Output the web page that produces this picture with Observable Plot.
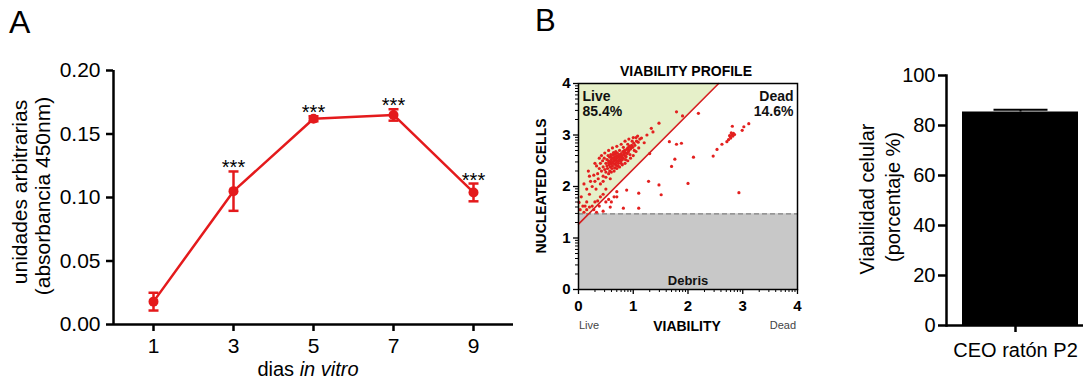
<!DOCTYPE html>
<html><head><meta charset="utf-8">
<script src="https://cdn.jsdelivr.net/npm/d3@7"></script>
<script src="https://cdn.jsdelivr.net/npm/@observablehq/plot@0.6"></script>
<style>
body{margin:0;background:#fff;}
#wrap{position:relative;width:1083px;height:383px;overflow:hidden;font-family:"Liberation Sans",Arial,sans-serif;background:#fff;}
#wrap svg{position:absolute;left:0;top:0;}
.lbl{position:absolute;white-space:nowrap;color:#000;line-height:1;}
</style></head><body><div id="wrap"></div>
<script>
// ---------- Panel A data ----------
const days = [1, 3, 5, 7, 9];
const absorbance = [0.018, 0.105, 0.162, 0.165, 0.104];
const absorbanceErr = [0.007, 0.0155, 0.002, 0.0045, 0.007];
const significance = ["", "***", "***", "***", "***"];
const ticksA_y = [0, 0.05, 0.10, 0.15, 0.20];

// ---------- Panel B data ----------
const ticksB = [0, 1, 2, 3, 4];
const minorFractions = [0.301, 0.477, 0.602, 0.699, 0.778, 0.845, 0.903, 0.954];
const liveGate = [[0, 1.3], [2.56, 4], [0, 4]];
const gateLine = [[0, 1.27], [2.56, 4]];
const debrisTop = 1.47;
const gateLabels = ["Live\n85.4%", "Dead\n14.6%", "Debris"];
const events = [
[0.42,2.30],[0.45,2.38],[0.48,2.33],[0.50,2.45],[0.52,2.40],[0.53,2.35],[0.55,2.50],[0.56,2.42],[0.58,2.47],[0.58,2.38],[0.60,2.52],[0.60,2.44],[0.62,2.48],[0.62,2.40],[0.63,2.55],[0.64,2.45],[0.65,2.50],[0.66,2.58],[0.67,2.43],[0.68,2.52],[0.69,2.47],[0.70,2.55],[0.70,2.60],[0.71,2.50],[0.72,2.57],[0.73,2.45],[0.74,2.62],[0.75,2.53],[0.76,2.58],[0.77,2.49],[0.78,2.64],[0.79,2.56],[0.80,2.60],[0.81,2.68],[0.82,2.55],[0.83,2.63],[0.84,2.70],[0.85,2.60],[0.86,2.66],[0.88,2.72],[0.89,2.64],[0.90,2.75],[0.92,2.70],[0.93,2.78],[0.95,2.73],[0.97,2.80],[0.99,2.76],[1.01,2.84],[1.03,2.80],[1.06,2.88],[1.09,2.86],[1.12,2.92],
[0.40,2.45],[0.44,2.50],[0.47,2.55],[0.50,2.28],[0.54,2.60],[0.57,2.30],[0.59,2.62],[0.61,2.35],[0.64,2.66],[0.66,2.36],[0.68,2.68],[0.72,2.40],[0.75,2.70],[0.78,2.45],[0.82,2.76],[0.86,2.52],[0.90,2.82],[0.94,2.62],[0.98,2.88],[1.02,2.70],
[0.35,2.25],[0.38,2.35],[0.33,2.40],[0.52,2.52],[0.57,2.57],[0.63,2.62],[0.67,2.63],[0.71,2.65],[0.74,2.50],[0.80,2.52],[0.87,2.58],[0.60,2.57],[0.55,2.46],[0.65,2.54],[0.69,2.41],[0.77,2.61],[0.84,2.66],[0.91,2.67],[0.96,2.76],
[0.45,2.20],[0.50,2.18],[0.55,2.25],[0.60,2.28],[0.65,2.30],[0.70,2.35],[0.75,2.38],[0.80,2.42],[0.85,2.45],[0.90,2.50],[0.95,2.55],[1.00,2.60],[1.05,2.68],[1.10,2.75],
[0.38,2.55],[0.42,2.60],[0.48,2.65],[0.55,2.70],[0.62,2.75],[0.70,2.78],[0.78,2.82],[0.85,2.88],[0.92,2.92],[1.00,2.95],[1.08,2.98],[0.30,2.45],[0.36,2.15],
[0.05,1.80],[0.10,2.05],[0.20,2.20],[0.32,1.95],[0.45,2.10],[0.58,2.15],[0.15,1.70],[0.08,1.62],
[0.01,1.69],[0.03,1.55],[0.20,1.85],[0.25,2.00],[0.30,2.10],[0.15,1.95],[0.22,2.10],[0.40,2.05],[0.28,2.22],[0.18,2.30],[1.15,2.94],[1.33,3.13],[1.47,3.23],[1.36,3.06],[1.25,3.00],[1.79,3.45],[1.20,2.85],[1.05,2.95],
[0.10,1.50],[0.15,1.55],[0.20,1.60],[0.25,1.62],[0.30,1.70],[0.35,1.72],[0.40,1.80],[0.45,1.85],[0.28,1.55],[0.38,1.62],[0.50,1.70],[0.55,1.75],[0.60,1.70],[0.65,1.80],[0.70,1.90],[0.58,1.60],[0.45,1.52],[0.12,1.62],[0.33,1.50],[0.50,1.95],
[1.66,2.87],[1.88,2.84],[1.76,2.53],[1.70,2.39],[2.10,2.57],[2.46,2.59],[2.53,2.72],[1.51,1.84],[2.00,2.06],[2.93,1.88],[2.19,3.42],[1.30,2.64],[1.28,2.10],[1.47,2.03],[0.88,1.93],[1.10,1.87],[0.70,1.80],[0.82,1.58],[1.10,1.58],[1.79,2.82],[1.90,3.37],
[2.71,2.87],[2.74,2.91],[2.77,2.97],[2.80,3.00],[2.83,3.03],[2.78,2.94],[2.82,2.98],[2.76,2.99],[2.85,3.01],[2.79,3.04],[2.99,3.09],[3.02,3.16],[3.11,3.22],[2.81,3.17],[2.62,2.82]
];

// ---------- Panel C data ----------
const groups = ["CEO ratón P2"];
const viabilityPct = [85.4];
const viabilityErr = [0.9];
const ticksC_y = [0, 20, 40, 60, 80, 100];

const wrap = document.getElementById("wrap");
const FONT = "Liberation Sans, Arial, sans-serif";
const red = "#e41a1c";

function capSymbol(w) {
  return {draw(ctx) { ctx.moveTo(-w, 0); ctx.lineTo(w, 0); }};
}

// ---------- Panel A ----------
const dataA = days.map((d, i) => ({day: d, v: absorbance[i], e: absorbanceErr[i], s: significance[i]}));
const chartA = Plot.plot({
  width: 1083, height: 383,
  marginLeft: 113, marginRight: 570, marginTop: 70, marginBottom: 59,
  style: {background: "transparent", fontFamily: FONT, fontSize: "21px", overflow: "visible"},
  x: {domain: [0, 10]},
  y: {domain: [0, 0.2]},
  marks: [
    Plot.axisY({ticks: ticksA_y, tickFormat: d3.format(".2f"), tickSize: 7, tickPadding: 6, strokeWidth: 2.5, label: null}),
    Plot.axisX({ticks: days, tickSize: 7, tickPadding: 7, strokeWidth: 2.5, label: null}),
    Plot.ruleX([0], {strokeWidth: 2.5}),
    Plot.ruleY([0], {strokeWidth: 2.5}),
    Plot.line(dataA, {x: "day", y: "v", stroke: red, strokeWidth: 2.5}),
    Plot.ruleX(dataA, {x: "day", y1: d => d.v - d.e, y2: d => d.v + d.e, stroke: red, strokeWidth: 2.5}),
    Plot.dot(dataA, {x: "day", y: d => d.v + d.e, symbol: capSymbol(5), stroke: red, fill: "none", strokeWidth: 2.5}),
    Plot.dot(dataA, {x: "day", y: d => d.v - d.e, symbol: capSymbol(5), stroke: red, fill: "none", strokeWidth: 2.5}),
    Plot.dot(dataA, {x: "day", y: "v", r: 5, fill: red}),
    Plot.text(dataA, {x: "day", y: d => d.v + d.e, text: "s", lineAnchor: "bottom", dy: 3, fontSize: 20, fill: "#000"})
  ]
});
wrap.appendChild(chartA);

// ---------- Panel B ----------
const minorTicks = ticksB.slice(0, 4).flatMap(d => minorFractions.map(f => d + f));
const chartB = Plot.plot({
  width: 1083, height: 383,
  marginLeft: 578, marginRight: 286, marginTop: 83, marginBottom: 94,
  style: {background: "transparent", fontFamily: FONT, fontSize: "15px", fontWeight: "bold", overflow: "visible"},
  x: {domain: [0, 4]},
  y: {domain: [0, 4]},
  marks: [
    Plot.line(liveGate.concat([liveGate[0]]), {x: d => d[0], y: d => d[1], fill: "#e6f0c9", stroke: "none"}),
    Plot.rect([{x1: 0, x2: 4, y1: 0, y2: debrisTop}], {x1: "x1", x2: "x2", y1: "y1", y2: "y2", fill: "#c8c8c8"}),
    Plot.ruleY([debrisTop], {stroke: "#808080", strokeWidth: 1.3, strokeDasharray: "5,3"}),
    Plot.dot(events, {x: d => d[0], y: d => d[1], r: 1.6, fill: "#e3201f", stroke: "none"}),
    Plot.line(gateLine, {x: d => d[0], y: d => d[1], stroke: "#d62020", strokeWidth: 1.6}),
    Plot.text([gateLabels[0]], {frameAnchor: "top-left", text: d => d, lineAnchor: "top", textAnchor: "start", dx: 4, dy: 6, fontSize: 14, lineHeight: 1.12, fill: "#111"}),
    Plot.text([gateLabels[1]], {frameAnchor: "top-right", text: d => d, lineAnchor: "top", textAnchor: "end", dx: -4, dy: 6, fontSize: 14, lineHeight: 1.12, fill: "#111"}),
    Plot.text([gateLabels[2]], {frameAnchor: "bottom", text: d => d, lineAnchor: "bottom", dy: -5, fontSize: 13, fill: "#111"}),
    Plot.frame({stroke: "#000", strokeWidth: 1.5}),
    Plot.axisX({ticks: ticksB, tickFormat: d3.format("d"), tickSize: 5, tickPadding: 6, strokeWidth: 1.3, label: null}),
    Plot.axisX({ticks: minorTicks, tickSize: 3, tickFormat: () => "", strokeWidth: 1, label: null}),
    Plot.axisY({ticks: ticksB, tickFormat: d3.format("d"), tickSize: 5, tickPadding: 3, strokeWidth: 1.3, label: null}),
    Plot.axisY({ticks: minorTicks, tickSize: 3, tickFormat: () => "", strokeWidth: 1, label: null})
  ]
});
wrap.appendChild(chartB);

// ---------- Panel C ----------
const dataC = groups.map((g, i) => ({g, v: viabilityPct[i], e: viabilityErr[i]}));
const chartC = Plot.plot({
  width: 1083, height: 383,
  marginLeft: 946, marginRight: 0, marginTop: 75, marginBottom: 58,
  style: {background: "transparent", fontFamily: FONT, fontSize: "20px", overflow: "visible"},
  x: {domain: groups, range: [962, 1078], padding: 0},
  y: {domain: [0, 100]},
  marks: [
    Plot.barY(dataC, {x: "g", y: "v", fill: "#000"}),
    Plot.ruleX(dataC, {x: "g", y1: "v", y2: d => d.v + d.e, stroke: "#000", strokeWidth: 2}),
    Plot.dot(dataC, {x: "g", y: d => d.v + d.e, symbol: capSymbol(27), stroke: "#000", fill: "none", strokeWidth: 2}),
    Plot.ruleY([0], {strokeWidth: 2.5}),
    Plot.frame({anchor: "left", strokeWidth: 2.5}),
    Plot.axisY({ticks: ticksC_y, tickSize: 8, tickPadding: 3, strokeWidth: 2.5, label: null}),
    Plot.axisX({tickSize: 7, tickPadding: 10, strokeWidth: 2.5, label: null, dx: -5})
  ]
});
wrap.appendChild(chartC);

// ---------- HTML labels ----------
function label(html, {x, y, size, anchor = "start", weight = "normal", color = "#000", rotate = false}) {
  const el = document.createElement("div");
  el.className = "lbl";
  el.innerHTML = html;
  el.style.fontSize = size + "px";
  el.style.fontWeight = weight;
  el.style.color = color;
  if (rotate) {
    el.style.left = x + "px";
    el.style.top = y + "px";
    el.style.transform = "translate(-50%,-50%) rotate(-90deg)";
  } else {
    el.style.left = x + "px";
    el.style.top = (y - 0.847 * size) + "px";
    const tx = anchor === "middle" ? "-50%" : anchor === "end" ? "-100%" : "0";
    el.style.transform = `translateX(${tx})`;
  }
  wrap.appendChild(el);
}
label("A", {x: 9, y: 33, size: 32});
label("B", {x: 535, y: 31, size: 31});
label("unidades arbitrarias", {x: 19, y: 192, size: 21, rotate: true});
label("(absorbancia 450nm)", {x: 41.5, y: 196, size: 21, rotate: true});
label("dias <i>in vitro</i>", {x: 308, y: 376, size: 20, anchor: "middle"});
label("VIABILITY PROFILE", {x: 686, y: 76, size: 14, anchor: "middle", weight: "bold"});
label("NUCLEATED CELLS", {x: 541, y: 186, size: 14, weight: "bold", rotate: true});
label("Live", {x: 579, y: 329, size: 11, color: "#444"});
label("VIABILITY", {x: 687, y: 331, size: 14, anchor: "middle", weight: "bold"});
label("Dead", {x: 796, y: 329, size: 11, anchor: "end", color: "#444"});
label("Viabilidad celular", {x: 867, y: 199, size: 20, rotate: true});
label("(porcentaje %)", {x: 893, y: 197, size: 20, rotate: true});
</script>
</body></html>
